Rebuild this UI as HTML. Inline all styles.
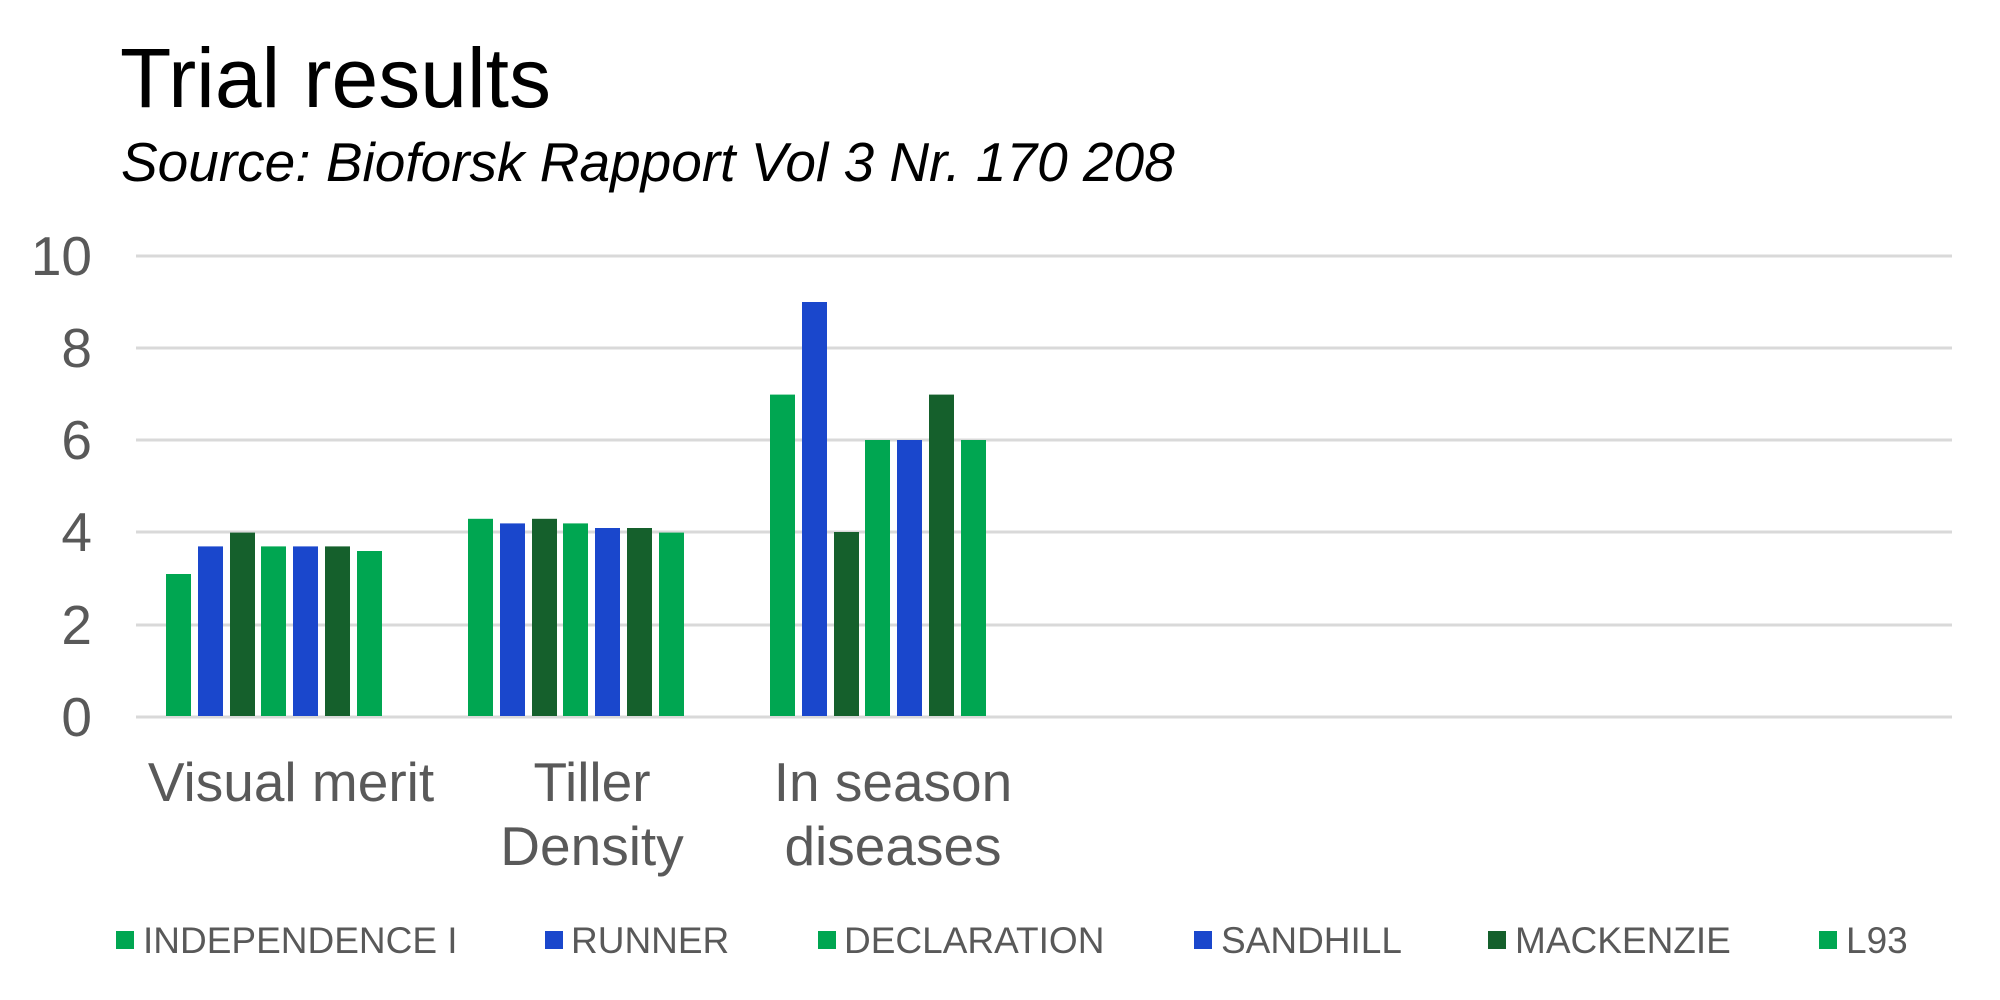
<!DOCTYPE html>
<html><head><meta charset="utf-8"><style>
body{margin:0;background:#fff;}
svg{display:block;font-family:"Liberation Sans",Arial,sans-serif;}
</style></head><body>
<svg width="2000" height="1000" viewBox="0 0 2000 1000" xmlns="http://www.w3.org/2000/svg">
<rect width="2000" height="1000" fill="#fff"/>
<text x="120" y="107" font-size="84" fill="#000">Trial results</text>
<text x="121" y="181" font-size="55" font-style="italic" fill="#000">Source: Bioforsk Rapport Vol 3 Nr. 170 208</text>
<g stroke="#d9d9d9" stroke-width="3">
<line x1="136" x2="1952" y1="256" y2="256"/>
<line x1="136" x2="1952" y1="348" y2="348"/>
<line x1="136" x2="1952" y1="440" y2="440"/>
<line x1="136" x2="1952" y1="532" y2="532"/>
<line x1="136" x2="1952" y1="625" y2="625"/>
<line x1="136" x2="1952" y1="717" y2="717"/>
</g>
<g font-size="55" fill="#595959" text-anchor="end">
<text x="92" y="275">10</text>
<text x="92" y="367">8</text>
<text x="92" y="459">6</text>
<text x="92" y="551">4</text>
<text x="92" y="644">2</text>
<text x="92" y="736">0</text>
</g>
<g font-size="55" fill="#595959" text-anchor="middle">
<text x="291" y="801">Visual merit</text>
<text x="592" y="801">Tiller</text>
<text x="592" y="865">Density</text>
<text x="893" y="801">In season</text>
<text x="893" y="865">diseases</text>
</g>
<g font-size="37" fill="#595959">
<rect x="116" y="931" width="18" height="18" fill="#00A651"/><text x="143" y="953">INDEPENDENCE I</text>
<rect x="545" y="931" width="18" height="18" fill="#1A47CC"/><text x="571" y="953">RUNNER</text>
<rect x="818" y="931" width="18" height="18" fill="#00A651"/><text x="844" y="953">DECLARATION</text>
<rect x="1194" y="931" width="18" height="18" fill="#1A47CC"/><text x="1221" y="953">SANDHILL</text>
<rect x="1488" y="931" width="18" height="18" fill="#15602C"/><text x="1515" y="953">MACKENZIE</text>
<rect x="1819" y="931" width="18" height="18" fill="#00A651"/><text x="1846" y="953">L93</text>
</g>
<g>
<rect x="166" y="574" width="25" height="142" fill="#00A651"/>
<rect x="198" y="546.4" width="25" height="169.6" fill="#1A47CC"/>
<rect x="230" y="532.6" width="25" height="183.4" fill="#15602C"/>
<rect x="261" y="546.4" width="25" height="169.6" fill="#00A651"/>
<rect x="293" y="546.4" width="25" height="169.6" fill="#1A47CC"/>
<rect x="325" y="546.4" width="25" height="169.6" fill="#15602C"/>
<rect x="357" y="551" width="25" height="165" fill="#00A651"/>
<rect x="468" y="518.8" width="25" height="197.2" fill="#00A651"/>
<rect x="500" y="523.4" width="25" height="192.6" fill="#1A47CC"/>
<rect x="532" y="518.8" width="25" height="197.2" fill="#15602C"/>
<rect x="563" y="523.4" width="25" height="192.6" fill="#00A651"/>
<rect x="595" y="528" width="25" height="188" fill="#1A47CC"/>
<rect x="627" y="528" width="25" height="188" fill="#15602C"/>
<rect x="659" y="532.6" width="25" height="183.4" fill="#00A651"/>
<rect x="770" y="394.6" width="25" height="321.4" fill="#00A651"/>
<rect x="802" y="302" width="25" height="414" fill="#1A47CC"/>
<rect x="834" y="532" width="25" height="184" fill="#15602C"/>
<rect x="865" y="440" width="25" height="276" fill="#00A651"/>
<rect x="897" y="440" width="25" height="276" fill="#1A47CC"/>
<rect x="929" y="394.6" width="25" height="321.4" fill="#15602C"/>
<rect x="961" y="440" width="25" height="276" fill="#00A651"/>
</g>
</svg>
</body></html>
